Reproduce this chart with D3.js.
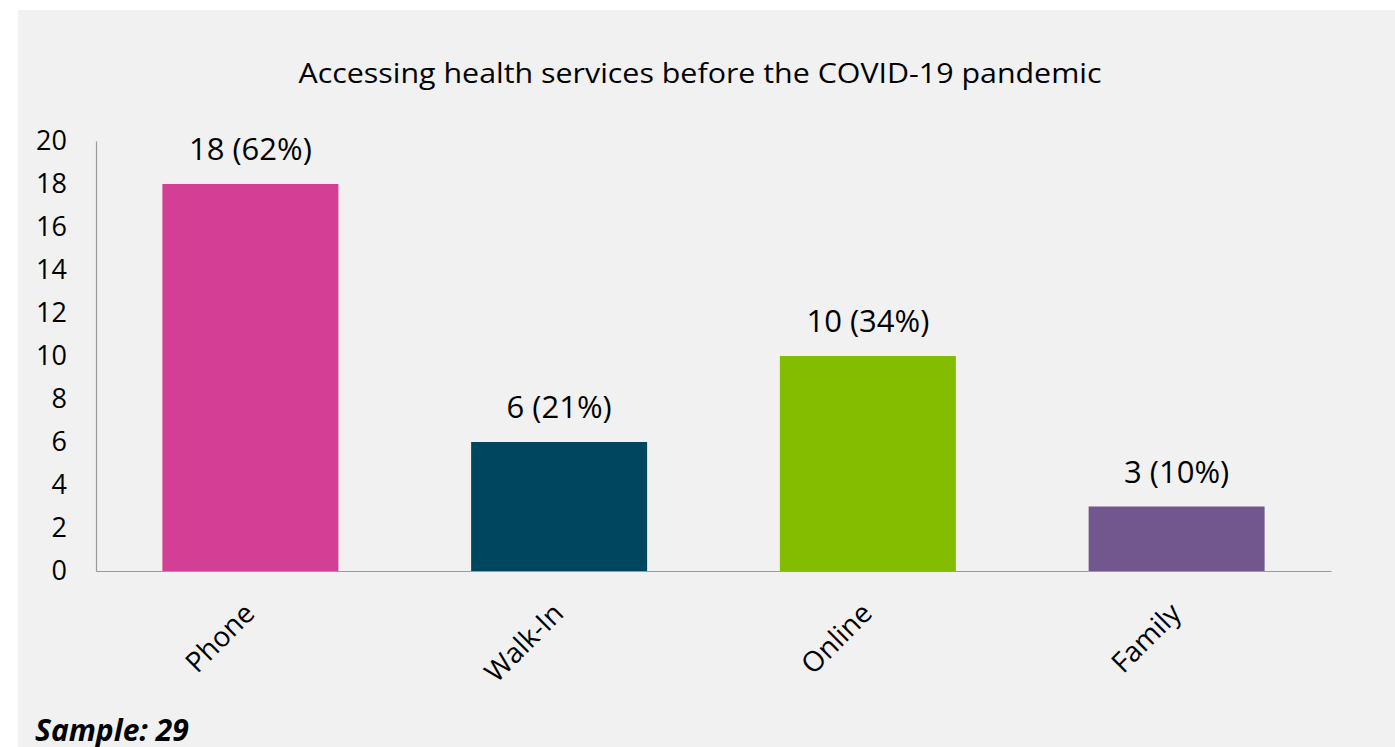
<!DOCTYPE html>
<html>
<head>
<meta charset="utf-8">
<script src="https://cdn.jsdelivr.net/npm/d3@7"></script>
<style>
  html, body { margin: 0; padding: 0; background: #ffffff; }
  svg { display: block; }
</style>
</head>
<body>
<svg id="chart" width="1395" height="747"></svg>
<script>
// Chart data
const categories = ["Phone", "Walk-In", "Online", "Family"];
const counts = [18, 6, 10, 3];
const percents = ["62%", "21%", "34%", "10%"];
const barColors = ["#d43f96", "#00465e", "#84bd00", "#71578e"];
const yTicks = [0, 2, 4, 6, 8, 10, 12, 14, 16, 18, 20];
const titleText = "Accessing health services before the COVID-19 pandemic";
const sampleText = "Sample: 29";

const W = 1395, H = 747;
const svg = d3.select("#chart");
const font = "'Open Sans', 'DejaVu Sans', sans-serif";

// Gray panel behind the chart
svg.append("rect")
  .attr("x", 18).attr("y", 10)
  .attr("width", W - 18).attr("height", H - 10)
  .attr("fill", "#f1f1f1");

const plot = { left: 96, right: 1331, top: 141, bottom: 571 };

const x = d3.scaleBand()
  .domain(categories)
  .range([plot.left, plot.right])
  .paddingInner(0.43)
  .paddingOuter(0.215);

const y = d3.scaleLinear()
  .domain([0, 20])
  .range([plot.bottom, plot.top]);

// Title
svg.append("text")
  .attr("x", 700).attr("y", 83)
  .attr("text-anchor", "middle")
  .attr("font-family", font)
  .attr("font-size", 28)
  .attr("textLength", 803)
  .attr("lengthAdjust", "spacingAndGlyphs")
  .attr("fill", "#000")
  .text(titleText);

// Bars
svg.append("g").selectAll("rect")
  .data(categories)
  .join("rect")
  .attr("x", d => x(d))
  .attr("width", x.bandwidth())
  .attr("y", (d, i) => y(counts[i]))
  .attr("height", (d, i) => y(0) - y(counts[i]))
  .attr("fill", (d, i) => barColors[i]);

// Value labels
svg.append("g").selectAll("text")
  .data(categories)
  .join("text")
  .attr("x", d => x(d) + x.bandwidth() / 2)
  .attr("y", (d, i) => y(counts[i]) - 24)
  .attr("text-anchor", "middle")
  .attr("font-family", font)
  .attr("font-size", 31)
  .attr("fill", "#000")
  .text((d, i) => `${counts[i]} (${percents[i]})`);

// Y axis
const yAxis = d3.axisLeft(y).tickValues(yTicks).tickSize(0).tickPadding(29);
const gy = svg.append("g")
  .attr("transform", `translate(${plot.left},0)`)
  .call(yAxis);
gy.select(".domain").attr("stroke", "#9a9a9a").attr("stroke-width", 1.2);
gy.selectAll("text")
  .attr("font-family", font)
  .attr("font-size", 27)
  .attr("fill", "#000");

// X axis
const xAxis = d3.axisBottom(x).tickSize(0).tickPadding(0);
const gx = svg.append("g")
  .attr("transform", `translate(0,${plot.bottom})`)
  .call(xAxis);
gx.select(".domain").attr("stroke", "#9a9a9a").attr("stroke-width", 1.2);
gx.selectAll("text")
  .attr("font-family", font)
  .attr("font-size", 28)
  .attr("fill", "#000")
  .attr("text-anchor", "end")
  .attr("dy", null)
  .attr("transform", "translate(6,44) rotate(-45)");

// Sample note
svg.append("text")
  .attr("x", 35).attr("y", 741)
  .attr("font-family", font)
  .attr("font-size", 30)
  .attr("font-weight", "bold")
  .attr("font-style", "italic")
  .attr("fill", "#000")
  .text(sampleText);
</script>
</body>
</html>
